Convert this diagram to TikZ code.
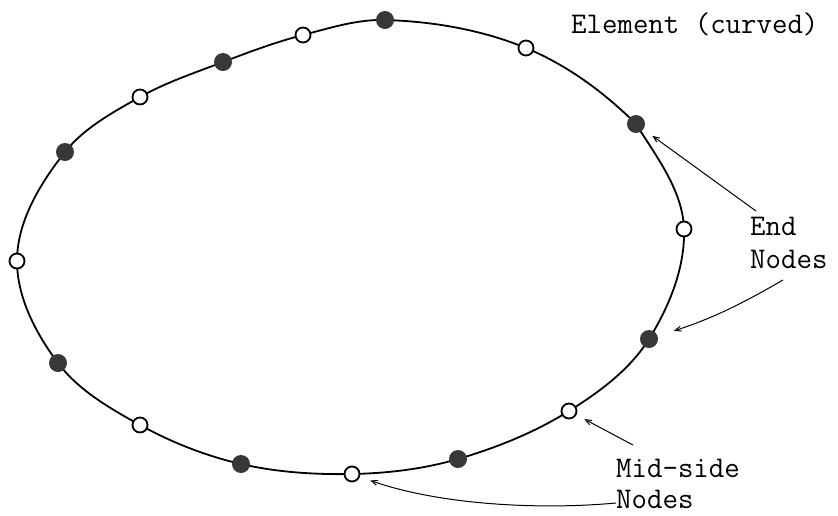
\documentclass[tikz,border=0pt]{standalone}
\usetikzlibrary{arrows.meta}
\begin{document}
\begin{tikzpicture}[x=1pt,y=-1pt,
  endnode/.style={circle,fill=black!78,inner sep=0pt,minimum size=18pt},
  midnode/.style={circle,draw=black,line width=1.8pt,fill=white,inner sep=0pt,minimum size=15pt},
  lbl/.style={font=\ttfamily\fontsize{30}{36}\selectfont,inner sep=0pt},
  arr/.style={line width=1pt,-{Straight Barb[length=6pt,width=5pt]}},
  curve/.style={line width=1.8pt,line join=round}]
\useasboundingbox (0,0) rectangle (838,515);
\coordinate (pm1) at (17,261);
\coordinate (pe1) at (65,152);
\coordinate (pm2) at (140,97);
\coordinate (pe2) at (223,62);
\coordinate (pm3) at (303,35);
\coordinate (pe3) at (385,20);
\coordinate (pm4) at (526,48);
\coordinate (pe4) at (636,124);
\coordinate (pm5) at (684,229);
\coordinate (pe5) at (649,339);
\coordinate (pm6) at (569,411);
\coordinate (pe6) at (458,459);
\coordinate (pm7) at (352,474);
\coordinate (pe7) at (241,464);
\coordinate (pm8) at (140,425);
\coordinate (pe8) at (58,363);
\draw[curve] (pm1)
 .. controls (17,221.3) and (40.4,183.0) .. (pe1)
 .. controls (84.2,127.8) and (113.0,112.2) .. (pm2)
 .. controls (166.1,82.3) and (194.8,72.8) .. (pe2)
 .. controls (249.4,51.9) and (275.8,42.0) .. (pm3)
 .. controls (329.9,28.0) and (357.2,19.2) .. (pe3)
 .. controls (432.9,21.4) and (481.7,29.7) .. (pm4)
 .. controls (567.2,65.1) and (604.5,92.5) .. (pe4)
 .. controls (656.4,156.7) and (682.8,190.5) .. (pm5)
 .. controls (685.2,267.5) and (669.4,306.3) .. (pe5)
 .. controls (630.0,369.5) and (599.5,392.0) .. (pm6)
 .. controls (534.7,432.4) and (496.7,447.7) .. (pe6)
 .. controls (423.7,469.0) and (387.7,473.3) .. (pm7)
 .. controls (314.9,474.7) and (277.1,472.3) .. (pe7)
 .. controls (205.8,455.9) and (171.6,442.4) .. (pm8)
 .. controls (110.0,408.4) and (78.6,390.4) .. (pe8)
 .. controls (36.0,333.7) and (17,297.6) .. (pm1) -- cycle;
\node[midnode] (m1) at (pm1) {};
\node[endnode] (e1) at (pe1) {};
\node[midnode] (m2) at (pm2) {};
\node[endnode] (e2) at (pe2) {};
\node[midnode] (m3) at (pm3) {};
\node[endnode] (e3) at (pe3) {};
\node[midnode] (m4) at (pm4) {};
\node[endnode] (e4) at (pe4) {};
\node[midnode] (m5) at (pm5) {};
\node[endnode] (e5) at (pe5) {};
\node[midnode] (m6) at (pm6) {};
\node[endnode] (e6) at (pe6) {};
\node[midnode] (m7) at (pm7) {};
\node[endnode] (e7) at (pe7) {};
\node[midnode] (m8) at (pm8) {};
\node[endnode] (e8) at (pe8) {};
\node[lbl,anchor=base west] (el) at (571,33) {Element (curved)};
\node[lbl,anchor=base west] (endl1) at (750,235) {End};
\node[lbl,anchor=base west] (endl2) at (750,268) {Nodes};
\node[lbl,anchor=base west] (midl1) at (616,477) {Mid-side};
\node[lbl,anchor=base west] (midl2) at (616,508) {Nodes};
\coordinate (a1) at (756,211);
\coordinate (a2) at (783,280);
\coordinate (a3) at (633,445);
\coordinate (a4) at (616,503);
\draw[arr,shorten >=11pt] (a1) -- (e4);
\draw[arr,shorten >=17pt] (a2) to[bend left=6] (e5);
\draw[arr,shorten >=9pt] (a3) -- (m6);
\draw[arr,shorten >=11pt] (a4) .. controls (540,510) and (440,505) .. (m7);
\end{tikzpicture}
\end{document}
